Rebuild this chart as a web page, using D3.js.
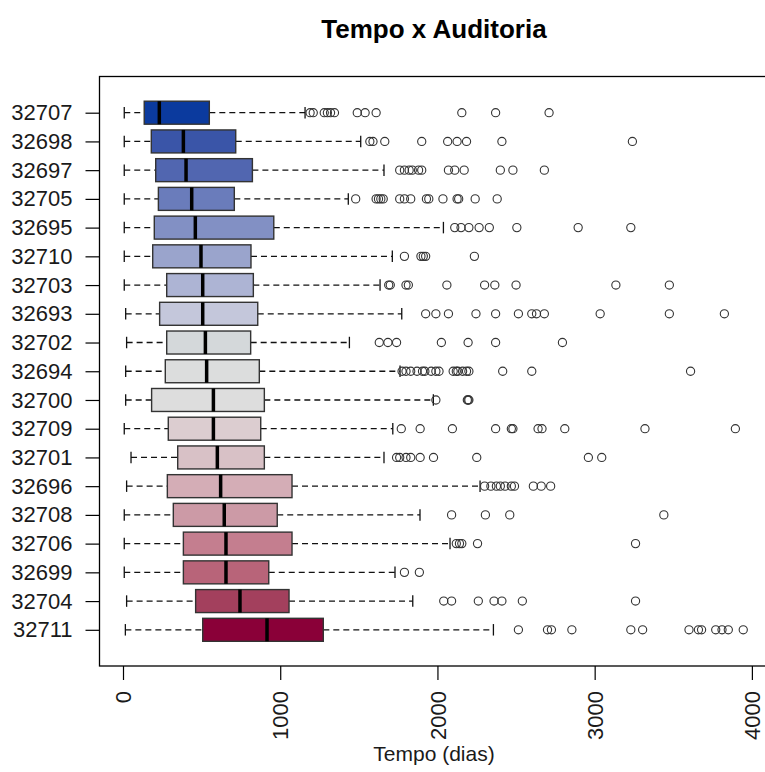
<!DOCTYPE html>
<html>
<head>
<meta charset="utf-8">
<script src="https://cdn.jsdelivr.net/npm/d3@7"></script>
<style>
  body { margin: 0; background: #fff; }
  svg { display: block; font-family: "Liberation Sans", Arial, sans-serif; }
</style>
</head>
<body>
<svg width="765" height="772"></svg>
<script>
// auditors, top to bottom
var ids = ["32707","32698","32697","32705","32695","32710","32703","32693","32702","32694",
           "32700","32709","32701","32696","32708","32706","32699","32704","32711"];

// five number summaries (days)
var lower  = [8, 8, 8, 8, 8, 8, 8, 17, 23, 17, 17, 8, 51, 23, 8, 8, 8, 23, 15];
var q1     = [135, 180, 208, 225, 199, 189, 278, 233, 278, 269, 182, 288, 348, 282, 320, 384, 384, 462, 507];
var median = [231, 384, 401, 437, 460, 496, 507, 507, 524, 532, 575, 575, 600, 621, 644, 655, 655, 744, 916];
var q3     = [549, 717, 823, 708, 959, 814, 829, 857, 812, 867, 899, 876, 899, 1075, 981, 1075, 927, 1056, 1274];
var upper  = [1158, 1512, 1660, 1433, 2038, 1713, 1635, 1773, 1440, 1762, 1974, 1716, 1660, 2271, 1889, 2080, 1730, 1843, 2356];

var outliers = [
  [1190, 1210, 1280, 1300, 1320, 1345, 1490, 1540, 1610, 2155, 2370, 2710],
  [1570, 1590, 1665, 1900, 2065, 2125, 2185, 2410, 3240],
  [1760, 1790, 1820, 1840, 1880, 1900, 2070, 2110, 2170, 2400, 2480, 2680],
  [1480, 1610, 1625, 1640, 1655, 1760, 1790, 1830, 1930, 1945, 2035, 2125, 2135, 2240, 2380],
  [2110, 2150, 2200, 2265, 2330, 2505, 2895, 3230],
  [1790, 1895, 1910, 1925, 2235],
  [1690, 1700, 1800, 1815, 2060, 2300, 2365, 2500, 3135, 3475],
  [1925, 1990, 2070, 2245, 2370, 2515, 2600, 2630, 2680, 3035, 3475, 3825],
  [1630, 1685, 1740, 2025, 2195, 2370, 2795],
  [1775, 1800, 1830, 1870, 1905, 1920, 1960, 1990, 2010, 2100, 2120, 2130, 2160, 2185, 2200, 2415, 2600, 3610],
  [1990, 2190, 2195, 2200],
  [1770, 1890, 2095, 2370, 2470, 2480, 2640, 2665, 2810, 3320, 3895],
  [1740, 1760, 1800, 1830, 1890, 1975, 2250, 2960, 3045],
  [2300, 2340, 2375, 2400, 2430, 2470, 2490, 2610, 2660, 2720],
  [2090, 2305, 2460, 3440],
  [2120, 2140, 2155, 2255, 3260],
  [1790, 1885],
  [2040, 2090, 2260, 2360, 2410, 2540, 3260],
  [2515, 2700, 2725, 2855, 3230, 3305, 3600, 3660, 3680, 3770, 3810, 3850, 3945]
];

var xTicks = [0, 1000, 2000, 3000, 4000];

var palette = ["#0b3a9e","#3a55a8","#5166b0","#6a7cbb","#8290c4","#9aa4cc","#adb4d4","#c4c7db",
               "#d4d8da","#dcdddd","#dddddd","#dccdd0","#d8c1c6","#d4adb6","#cc9aa6","#c47e8f",
               "#b86479","#a3405d","#8a0038"];

var svg = d3.select("svg");
var n = ids.length;

var all = d3.merge([lower, upper, d3.merge(outliers)]);
var lo = d3.min(all), hi = d3.max(all), ext = (hi - lo) * 0.04;

var x = d3.scaleLinear().domain([lo - ext, hi + ext]).range([99.5, 768]);
var y = d3.scaleLinear().domain([0.5 - 0.04 * n, n + 0.5 + 0.04 * n]).range([666, 76.5]);

function pos(i) { return y(n - i); }
var halfH = y(0) - y(0.4);
var capH = y(0) - y(0.2);

var rows = svg.append("g").selectAll("g")
  .data(ids)
  .enter().append("g")
  .attr("transform", function(d, i) { return "translate(0," + pos(i) + ")"; });

// whiskers
rows.append("line")
  .attr("x1", function(d, i) { return x(lower[i]); })
  .attr("x2", function(d, i) { return x(q1[i]); })
  .attr("stroke", "#111").attr("stroke-width", 1.3).attr("stroke-dasharray", "6,4");
rows.append("line")
  .attr("x1", function(d, i) { return x(q3[i]); })
  .attr("x2", function(d, i) { return x(upper[i]); })
  .attr("stroke", "#111").attr("stroke-width", 1.3).attr("stroke-dasharray", "6,4");
rows.append("line")
  .attr("x1", function(d, i) { return x(lower[i]); })
  .attr("x2", function(d, i) { return x(lower[i]); })
  .attr("y1", -capH).attr("y2", capH)
  .attr("stroke", "#111").attr("stroke-width", 1.3);
rows.append("line")
  .attr("x1", function(d, i) { return x(upper[i]); })
  .attr("x2", function(d, i) { return x(upper[i]); })
  .attr("y1", -capH).attr("y2", capH)
  .attr("stroke", "#111").attr("stroke-width", 1.3);

// boxes
rows.append("rect")
  .attr("x", function(d, i) { return x(q1[i]); })
  .attr("width", function(d, i) { return x(q3[i]) - x(q1[i]); })
  .attr("y", -halfH).attr("height", 2 * halfH)
  .attr("fill", function(d, i) { return palette[i]; })
  .attr("stroke", "#333").attr("stroke-width", 1.4);

rows.append("line")
  .attr("x1", function(d, i) { return x(median[i]); })
  .attr("x2", function(d, i) { return x(median[i]); })
  .attr("y1", -halfH).attr("y2", halfH)
  .attr("stroke", "#000").attr("stroke-width", 3.5);

// outliers
rows.each(function(d, i) {
  d3.select(this).selectAll("circle")
    .data(outliers[i])
    .enter().append("circle")
    .attr("cx", function(v) { return x(v); })
    .attr("cy", 0)
    .attr("r", 4.1)
    .attr("fill", "none")
    .attr("stroke", "#333")
    .attr("stroke-width", 1.1);
});

// frame
svg.append("rect")
  .attr("x", x.range()[0]).attr("y", y.range()[1])
  .attr("width", x.range()[1] - x.range()[0])
  .attr("height", y.range()[0] - y.range()[1])
  .attr("fill", "none").attr("stroke", "#000").attr("stroke-width", 1.3);

// y axis
var yAxis = svg.append("g")
  .attr("transform", "translate(" + x.range()[0] + ",0)")
  .call(d3.axisLeft(y)
    .tickValues(d3.range(1, n + 1))
    .tickFormat(function(v) { return ids[n - v]; })
    .tickSize(14).tickPadding(13));
yAxis.select(".domain").remove();
yAxis.selectAll("line").attr("stroke", "#000").attr("stroke-width", 1.2);
yAxis.selectAll("text")
  .attr("font-size", 22).attr("fill", "#1a1a1a")
  .attr("font-family", "Liberation Sans, Arial, sans-serif");

// x axis
var xAxis = svg.append("g")
  .attr("transform", "translate(0," + y.range()[0] + ")")
  .call(d3.axisBottom(x).tickValues(xTicks).tickFormat(d3.format("d")).tickSize(14));
xAxis.select(".domain").remove();
xAxis.selectAll("line").attr("stroke", "#000").attr("stroke-width", 1.2);
xAxis.selectAll("text")
  .attr("transform", "rotate(-90)")
  .attr("x", -25).attr("y", 0).attr("dy", "0.35em")
  .style("text-anchor", "end")
  .attr("font-size", 22).attr("fill", "#1a1a1a")
  .attr("font-family", "Liberation Sans, Arial, sans-serif");

svg.append("text")
  .attr("x", 434).attr("y", 761)
  .attr("text-anchor", "middle")
  .attr("font-size", 21).attr("fill", "#1a1a1a")
  .text("Tempo (dias)");

svg.append("text")
  .attr("x", 434).attr("y", 38)
  .attr("text-anchor", "middle")
  .attr("font-size", 26).attr("font-weight", "bold")
  .text("Tempo x Auditoria");
</script>
</body>
</html>
